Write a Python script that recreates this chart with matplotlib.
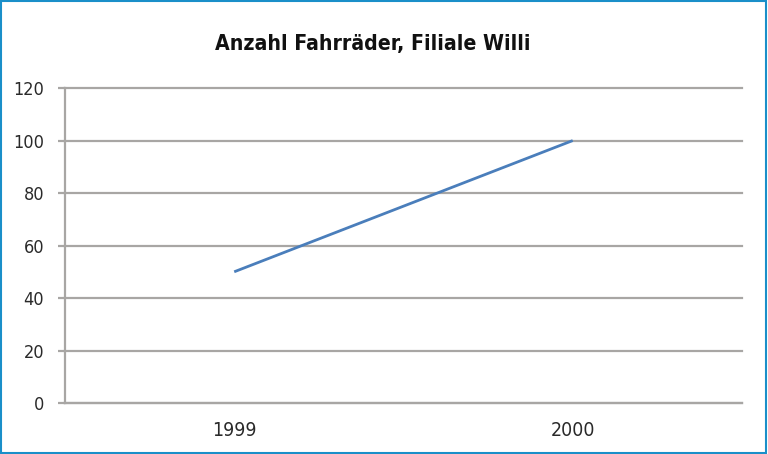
import matplotlib.pyplot as plt
from matplotlib.patches import Rectangle

YEARS = ["1999", "2000"]
BIKES = [50, 100]
Y_TICKS = [0, 20, 40, 60, 80, 100, 120]
TITLE = "Anzahl Fahrräder, Filiale Willi"

GRID_COL = "#a8a6a4"
LINE_COL = "#4a7ebb"
FRAME_COL = "#1a8fc9"
TEXT_COL = "#2a2a2a"


def _main():
    fig = plt.figure(figsize=(7.68, 4.54), dpi=100)
    ax = fig.add_axes([0.0846, 0.1123, 0.8815, 0.6937])

    x = list(range(len(YEARS)))
    ax.plot(x, BIKES, color=LINE_COL, linewidth=2, solid_capstyle="butt")

    ax.set_xlim(-0.5, len(YEARS) - 0.5)
    ax.set_ylim(0, 120)
    ax.set_xticks(x)
    ax.set_xticklabels(YEARS)
    ax.set_yticks(Y_TICKS)
    ax.yaxis.grid(True, color=GRID_COL, linewidth=1.6)
    for line in ax.get_ygridlines():
        line.set_clip_on(False)
    ax.set_axisbelow(True)

    for side in ["top", "right"]:
        ax.spines[side].set_visible(False)
    ax.spines["left"].set_color(GRID_COL)
    ax.spines["left"].set_linewidth(1.6)
    ax.spines["bottom"].set_color(GRID_COL)
    ax.spines["bottom"].set_linewidth(1.6)
    ax.tick_params(axis="y", length=5, width=1.6, color=GRID_COL,
                   labelsize=13, labelcolor=TEXT_COL, pad=10)
    ax.tick_params(axis="x", length=0, labelsize=14, labelcolor=TEXT_COL, pad=13)
    for lab in ax.get_xticklabels() + ax.get_yticklabels():
        lab.set_fontstretch("condensed")

    fig.text(0.486, 0.903, TITLE, ha="center", va="center", fontsize=15.2,
             fontweight="bold", fontstretch="condensed", family="DejaVu Sans",
             color="#111111")

    fig.patches.append(Rectangle((0.001, 0.002), 0.997, 0.996, transform=fig.transFigure,
                                 fill=False, edgecolor=FRAME_COL, linewidth=1.5))
    fig.savefig("out.png", dpi=100)


if __name__ == "__main__":
    _main()
